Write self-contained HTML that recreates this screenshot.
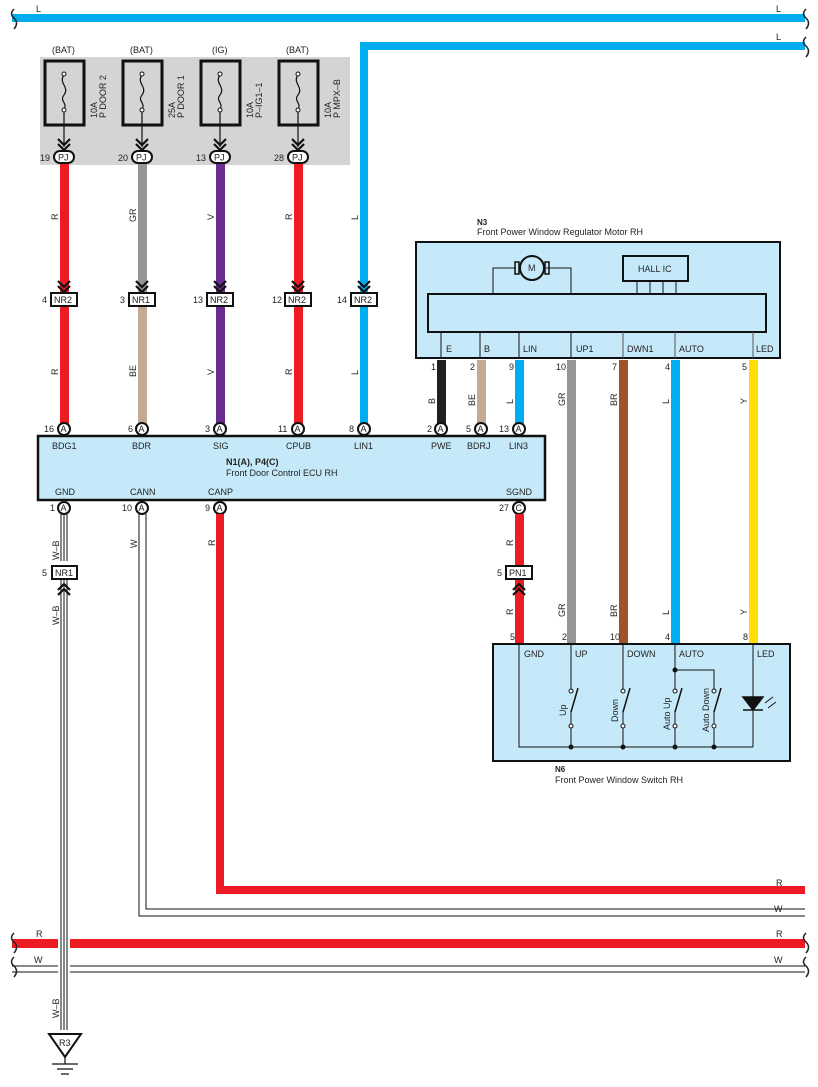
<!DOCTYPE html>
<html><head><meta charset="utf-8"><style>
html,body{margin:0;padding:0;background:#fff}
svg{display:block}
text{font-family:"Liberation Sans",sans-serif;font-size:9px;fill:#222}
.s{font-size:8.5px}
</style></head><body>
<svg width="818" height="1087" viewBox="0 0 818 1087" xmlns="http://www.w3.org/2000/svg">
<defs>
<g id="chev"><path d="M-6,-9 L0,-3 L6,-9 M-6,-4 L0,2 L6,-4" fill="none" stroke="#111" stroke-width="2.2"/></g>
<g id="chevU"><path d="M-6,9 L0,3 L6,9 M-6,4 L0,-2 L6,4" fill="none" stroke="#111" stroke-width="2.2"/></g>
</defs>
<!-- gray fuse area -->
<rect x="40" y="57" width="310" height="108" fill="#d4d4d6"/>
<!-- top L wires -->
<rect x="12" y="14" width="793" height="8" fill="#00aeef"/>
<text x="36" y="12">L</text><text x="776" y="12">L</text>
<path d="M14,9 q-5,5 0,9 q5,5 0,11" fill="none" stroke="#222" stroke-width="1.5"/>
<path d="M806,9 q-5,5 0,9 q5,5 0,11" fill="none" stroke="#222" stroke-width="1.5"/>
<path d="M364,425 V46 H805" fill="none" stroke="#00aeef" stroke-width="8"/>
<text x="776" y="40">L</text>
<path d="M806,37 q-5,5 0,9 q5,5 0,11" fill="none" stroke="#222" stroke-width="1.5"/>
<!-- fuses -->
<g>
<text x="52" y="53">(BAT)</text><text x="130" y="53">(BAT)</text><text x="212" y="53">(IG)</text><text x="286" y="53">(BAT)</text>
<rect x="45" y="61" width="39" height="64" fill="none" stroke="#111" stroke-width="3"/>
<rect x="123" y="61" width="39" height="64" fill="none" stroke="#111" stroke-width="3"/>
<rect x="201" y="61" width="39" height="64" fill="none" stroke="#111" stroke-width="3"/>
<rect x="279" y="61" width="39" height="64" fill="none" stroke="#111" stroke-width="3"/>
</g>
<g fill="none" stroke="#111" stroke-width="1.2">
<path d="M64,75 c-6,8 6,12 0,20 c-5,6 4,8 0,14 M64,111 V147"/>
<path d="M142,75 c-6,8 6,12 0,20 c-5,6 4,8 0,14 M142,111 V147"/>
<path d="M220,75 c-6,8 6,12 0,20 c-5,6 4,8 0,14 M220,111 V147"/>
<path d="M298,75 c-6,8 6,12 0,20 c-5,6 4,8 0,14 M298,111 V147"/>
</g>
<g fill="#fff" stroke="#111" stroke-width="1">
<circle cx="64" cy="74" r="2"/><circle cx="64" cy="110" r="2"/>
<circle cx="142" cy="74" r="2"/><circle cx="142" cy="110" r="2"/>
<circle cx="220" cy="74" r="2"/><circle cx="220" cy="110" r="2"/>
<circle cx="298" cy="74" r="2"/><circle cx="298" cy="110" r="2"/>
</g>
<g class="s">
<text transform="translate(97,118) rotate(-90)">10A</text><text transform="translate(106,118) rotate(-90)">P DOOR 2</text>
<text transform="translate(175,118) rotate(-90)">25A</text><text transform="translate(184,118) rotate(-90)">P DOOR 1</text>
<text transform="translate(253,118) rotate(-90)">10A</text><text transform="translate(262,118) rotate(-90)">P–IG1–1</text>
<text transform="translate(331,118) rotate(-90)">10A</text><text transform="translate(340,118) rotate(-90)">P MPX–B</text>
</g>
<!-- vertical upper wires -->
<rect x="60" y="163" width="9" height="266" fill="#ed1c24"/>
<rect x="138" y="163" width="9" height="130" fill="#939598"/>
<rect x="138" y="305" width="9" height="124" fill="#c2aa93"/>
<rect x="216" y="163" width="9" height="266" fill="#6b2c91"/>
<rect x="294" y="163" width="9" height="266" fill="#ed1c24"/>
<!-- PJ connectors -->
<g>
<use href="#chev" x="64" y="148"/><use href="#chev" x="142" y="148"/><use href="#chev" x="220" y="148"/><use href="#chev" x="298" y="148"/>
<g fill="#fff" stroke="#111" stroke-width="2">
<rect x="54" y="151" width="20" height="12" rx="6"/><rect x="132" y="151" width="20" height="12" rx="6"/><rect x="210" y="151" width="20" height="12" rx="6"/><rect x="288" y="151" width="20" height="12" rx="6"/>
</g>
<text x="58" y="160.5">PJ</text><text x="136" y="160.5">PJ</text><text x="214" y="160.5">PJ</text><text x="292" y="160.5">PJ</text>
<text x="40" y="161">19</text><text x="118" y="161">20</text><text x="196" y="161">13</text><text x="274" y="161">28</text>
</g>
<!-- wire labels upper -->
<g>
<text transform="translate(58,220) rotate(-90)">R</text>
<text transform="translate(136,222) rotate(-90)">GR</text>
<text transform="translate(214,220) rotate(-90)">V</text>
<text transform="translate(292,220) rotate(-90)">R</text>
<text transform="translate(358,220) rotate(-90)">L</text>
<text transform="translate(58,375) rotate(-90)">R</text>
<text transform="translate(136,377) rotate(-90)">BE</text>
<text transform="translate(214,375) rotate(-90)">V</text>
<text transform="translate(292,375) rotate(-90)">R</text>
<text transform="translate(358,375) rotate(-90)">L</text>
</g>
<!-- NR connectors -->
<g>
<use href="#chev" x="64" y="290"/><use href="#chev" x="142" y="290"/><use href="#chev" x="220" y="290"/><use href="#chev" x="298" y="290"/><use href="#chev" x="364" y="290"/>
<g fill="#fff" stroke="#111" stroke-width="2">
<rect x="51" y="293" width="26" height="13"/><rect x="129" y="293" width="26" height="13"/><rect x="207" y="293" width="26" height="13"/><rect x="285" y="293" width="26" height="13"/><rect x="351" y="293" width="26" height="13"/>
</g>
<text x="54" y="303">NR2</text><text x="132" y="303">NR1</text><text x="210" y="303">NR2</text><text x="288" y="303">NR2</text><text x="354" y="303">NR2</text>
<text x="42" y="303">4</text><text x="120" y="303">3</text><text x="193" y="303">13</text><text x="272" y="303">12</text><text x="337" y="303">14</text>
</g>
<!-- motor wires down -->
<rect x="437" y="360" width="9" height="69" fill="#231f20"/>
<rect x="477" y="360" width="9" height="69" fill="#c2aa93"/>
<rect x="515" y="360" width="9" height="69" fill="#00aeef"/>
<rect x="567" y="360" width="9" height="285" fill="#939598"/>
<rect x="619" y="360" width="9" height="285" fill="#a0522d"/>
<rect x="671" y="360" width="9" height="285" fill="#00aeef"/>
<rect x="749" y="360" width="9" height="285" fill="#ffde00"/>
<g>
<text x="431" y="370">1</text><text x="470" y="370">2</text><text x="509" y="370">9</text><text x="556" y="370">10</text><text x="612" y="370">7</text><text x="665" y="370">4</text><text x="742" y="370">5</text>
<text transform="translate(435,404) rotate(-90)">B</text>
<text transform="translate(475,406) rotate(-90)">BE</text>
<text transform="translate(513,404) rotate(-90)">L</text>
<text transform="translate(565,406) rotate(-90)">GR</text>
<text transform="translate(617,406) rotate(-90)">BR</text>
<text transform="translate(669,404) rotate(-90)">L</text>
<text transform="translate(747,404) rotate(-90)">Y</text>
</g>
<!-- motor box -->
<text x="477" y="225" style="font-weight:bold;font-size:8px">N3</text>
<text x="477" y="235">Front Power Window Regulator Motor RH</text>
<rect x="416" y="242" width="364" height="116" fill="#c6e9f9" stroke="#111" stroke-width="2"/>
<rect x="428" y="294" width="338" height="38" fill="none" stroke="#111" stroke-width="2"/>
<path d="M493,294 V268 H516 M546,268 H571 V294" fill="none" stroke="#111"/>
<circle cx="532" cy="268" r="12" fill="#c6e9f9" stroke="#111" stroke-width="2"/>
<rect x="515" y="262" width="4" height="12" fill="none" stroke="#111" stroke-width="1.5"/>
<rect x="545" y="262" width="4" height="12" fill="none" stroke="#111" stroke-width="1.5"/>
<text x="528" y="271">M</text>
<rect x="623" y="256" width="65" height="25" fill="none" stroke="#111" stroke-width="2"/>
<text x="638" y="272">HALL IC</text>
<path d="M637,281 V294 M650,281 V294 M663,281 V294 M676,281 V294" stroke="#111"/>
<path d="M441,332 V358 M480,332 V358 M519,332 V358 M571,332 V358" stroke="#111"/>
<path d="M623,332 V358 M675,332 V358 M753,332 V358" stroke="#555"/>
<g><text x="446" y="352">E</text><text x="484" y="352">B</text><text x="523" y="352">LIN</text><text x="576" y="352">UP1</text><text x="627" y="352">DWN1</text><text x="679" y="352">AUTO</text><text x="756" y="352">LED</text></g>
<!-- ECU -->
<g fill="#fff" stroke="#111" stroke-width="2">
<circle cx="64" cy="429" r="6"/><circle cx="142" cy="429" r="6"/><circle cx="220" cy="429" r="6"/><circle cx="298" cy="429" r="6"/><circle cx="364" cy="429" r="6"/><circle cx="441" cy="429" r="6"/><circle cx="481" cy="429" r="6"/><circle cx="519" cy="429" r="6"/>
<circle cx="64" cy="508" r="6"/><circle cx="142" cy="508" r="6"/><circle cx="220" cy="508" r="6"/><circle cx="519" cy="508" r="6"/>
</g>
<g class="s">
<text x="60.5" y="432">A</text><text x="138.5" y="432">A</text><text x="216.5" y="432">A</text><text x="294.5" y="432">A</text><text x="360.5" y="432">A</text><text x="437.5" y="432">A</text><text x="477.5" y="432">A</text><text x="515.5" y="432">A</text>
<text x="60.5" y="511">A</text><text x="138.5" y="511">A</text><text x="216.5" y="511">A</text><text x="515.5" y="511">C</text>
</g>
<g>
<text x="44" y="432">16</text><text x="128" y="432">6</text><text x="205" y="432">3</text><text x="278" y="432">11</text><text x="349" y="432">8</text><text x="427" y="432">2</text><text x="466" y="432">5</text><text x="499" y="432">13</text>
<text x="50" y="511">1</text><text x="122" y="511">10</text><text x="205" y="511">9</text><text x="499" y="511">27</text>
</g>
<rect x="38" y="436" width="507" height="64" fill="#c6e9f9" stroke="#111" stroke-width="2.5"/>
<g>
<text x="52" y="449">BDG1</text><text x="132" y="449">BDR</text><text x="213" y="449">SIG</text><text x="286" y="449">CPUB</text><text x="354" y="449">LIN1</text><text x="431" y="449">PWE</text><text x="467" y="449">BDRJ</text><text x="509" y="449">LIN3</text>
<text x="226" y="465" style="font-weight:bold">N1(A), P4(C)</text>
<text x="226" y="476">Front Door Control ECU RH</text>
<text x="55" y="495">GND</text><text x="130" y="495">CANN</text><text x="208" y="495">CANP</text><text x="506" y="495">SGND</text>
</g>
<!-- lower wires -->
<path d="M61,514 V1030 M64,514 V1030 M67,514 V1030" stroke="#111" stroke-width="1"/>
<rect x="59" y="561" width="10" height="10" fill="#fff"/>
<path d="M139,514 V916 H805 M146,514 V909 H805" fill="none" stroke="#111" stroke-width="1"/>
<path d="M220,514 V890 H805" fill="none" stroke="#ed1c24" stroke-width="8"/>
<rect x="515" y="514" width="9" height="131" fill="#ed1c24"/>
<text transform="translate(59,560) rotate(-90)">W–B</text>
<text transform="translate(59,625) rotate(-90)">W–B</text>
<text transform="translate(137,548) rotate(-90)">W</text>
<text transform="translate(215,546) rotate(-90)">R</text>
<text transform="translate(513,546) rotate(-90)">R</text>
<text transform="translate(513,615) rotate(-90)">R</text>
<text transform="translate(565,617) rotate(-90)">GR</text>
<text transform="translate(617,617) rotate(-90)">BR</text>
<text transform="translate(669,615) rotate(-90)">L</text>
<text transform="translate(747,615) rotate(-90)">Y</text>
<rect x="52" y="566" width="25" height="13" fill="#fff" stroke="#111" stroke-width="2"/>
<text x="55" y="576">NR1</text><text x="42" y="576">5</text>
<use href="#chevU" x="64" y="586"/>
<rect x="506" y="566" width="26" height="13" fill="#fff" stroke="#111" stroke-width="2"/>
<text x="509" y="576">PN1</text><text x="497" y="576">5</text>
<use href="#chevU" x="519" y="586"/>
<text x="510" y="640">5</text><text x="562" y="640">2</text><text x="610" y="640">10</text><text x="665" y="640">4</text><text x="743" y="640">8</text>
<text x="776" y="886">R</text><text x="774" y="912">W</text>
<!-- R/W bus -->
<rect x="12" y="939" width="793" height="9" fill="#ed1c24"/>
<path d="M12,966 H805 M12,972 H805" stroke="#111" stroke-width="1"/>
<rect x="58" y="936" width="12" height="40" fill="#fff"/>
<path d="M61,936 V976 M64,936 V976 M67,936 V976" stroke="#111" stroke-width="1"/>
<text x="36" y="937">R</text><text x="34" y="963">W</text><text x="776" y="937">R</text><text x="774" y="963">W</text>
<path d="M14,933 q-5,5 0,9 q5,5 0,11 M14,957 q-5,5 0,9 q5,5 0,11" fill="none" stroke="#222" stroke-width="1.5"/>
<path d="M806,933 q-5,5 0,9 q5,5 0,11 M806,957 q-5,5 0,9 q5,5 0,11" fill="none" stroke="#222" stroke-width="1.5"/>
<text transform="translate(59,1018) rotate(-90)">W–B</text>
<!-- ground -->
<path d="M49,1034 H81 L65,1057 Z" fill="#fff" stroke="#111" stroke-width="2"/>
<text x="59" y="1046">R3</text>
<path d="M65,1057 V1064 M52,1064 H78 M57,1069 H73 M61,1074 H69" stroke="#111" stroke-width="1.2"/>
<!-- switch box -->
<rect x="493" y="644" width="297" height="117" fill="#c6e9f9" stroke="#111" stroke-width="2"/>
<path d="M519,644 V747 H753 M571,644 V690 M623,644 V690 M675,644 V690 M675,670 H714 V690 M571,711 V747 M623,711 V747 M675,711 V747 M714,711 V747 M753,644 V747" fill="none" stroke="#111" stroke-width="1"/>
<path d="M571,712 L578,688 M623,712 L630,688 M675,712 L682,688 M714,712 L721,688" stroke="#111" stroke-width="1.5"/>
<g fill="#fff" stroke="#111"><circle cx="571" cy="691" r="2"/><circle cx="571" cy="727" r="0"/><circle cx="623" cy="691" r="2"/><circle cx="675" cy="691" r="2"/><circle cx="714" cy="691" r="2"/><circle cx="571" cy="726" r="2"/><circle cx="623" cy="726" r="2"/><circle cx="675" cy="726" r="2"/><circle cx="714" cy="726" r="2"/></g>
<path d="M571,691 V711 M623,691 V711" stroke="none"/>
<g fill="#111"><circle cx="571" cy="747" r="2.5"/><circle cx="623" cy="747" r="2.5"/><circle cx="675" cy="747" r="2.5"/><circle cx="714" cy="747" r="2.5"/><circle cx="675" cy="670" r="2.5"/></g>
<path d="M743,697 H763 L753,710 Z M743,710 H763" fill="#111" stroke="#111" stroke-width="1.5"/>
<path d="M765,703 L773,697 M768,708 L776,702" stroke="#111" stroke-width="1"/>
<text x="524" y="657">GND</text><text x="575" y="657">UP</text><text x="627" y="657">DOWN</text><text x="679" y="657">AUTO</text><text x="757" y="657">LED</text>
<text transform="translate(566,716) rotate(-90)">Up</text>
<text transform="translate(618,722) rotate(-90)">Down</text>
<text transform="translate(670,730) rotate(-90)">Auto Up</text>
<text transform="translate(709,732) rotate(-90)">Auto Down</text>
<text x="555" y="772" style="font-weight:bold;font-size:8px">N6</text>
<text x="555" y="783">Front Power Window Switch RH</text>
</svg>
</body></html>
